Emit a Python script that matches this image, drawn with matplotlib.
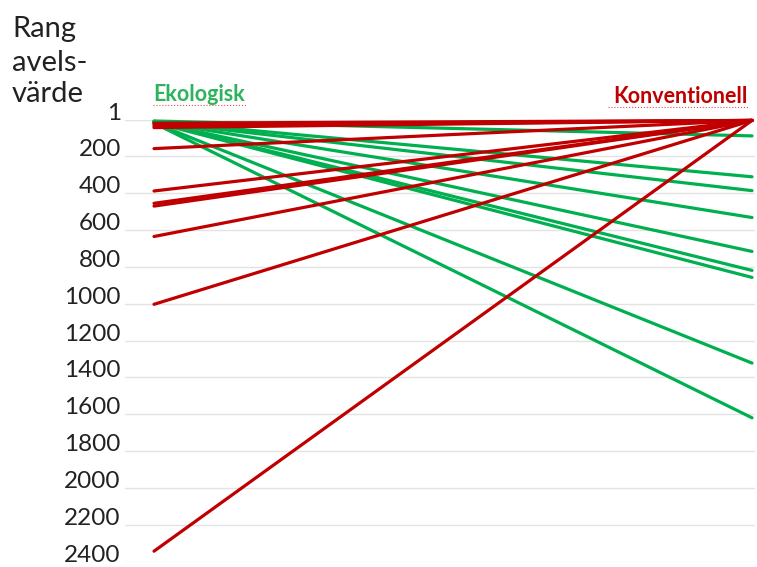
import matplotlib.pyplot as plt

# rank of breeding value: organic (Ekologisk) vs conventional (Konventionell)
green_eko = [8, 10, 12, 12, 14, 15, 16, 18, 20]
green_konv = [89, 311, 386, 532, 716, 819, 857, 1322, 1619]
red_eko = [20, 28, 36, 44, 158, 388, 455, 470, 635, 1003, 2343]
red_konv = [5, 5, 5, 5, 5, 5, 5, 5, 5, 5, 5]
ticks = [1, 200, 400, 600, 800, 1000, 1200, 1400, 1600, 1800, 2000, 2200, 2400]

green = '#00B050'
red = '#C00000'

plt.rcParams['font.family'] = ['Lato', 'DejaVu Sans']

fig = plt.figure(figsize=(7.57, 5.67), dpi=100)
ax = fig.add_axes([125 / 757, 1 - 561.7 / 567, 630 / 757, 442.2 / 567])

for a, b in zip(green_eko, green_konv):
    ax.plot([0, 1], [a, b], color=green, lw=2.3, solid_capstyle='round', clip_on=False)
for a, b in zip(red_eko, red_konv):
    ax.plot([0, 1], [a, b], color=red, lw=2.3, solid_capstyle='round', clip_on=False)

ax.set_xlim(-29 / 598, 1 + 3 / 598)
ax.set_ylim(2400, 0)
ax.set_yticks(ticks)
ax.set_yticklabels([str(t) for t in ticks], fontsize=17.5, color='#222222')
plt.setp(ax.get_yticklabels(), va='baseline')
ax.tick_params(axis='y', length=0, pad=3)
ax.set_xticks([])
ax.grid(axis='y', color='#E3E3E3', lw=1)
ax.set_axisbelow(True)
for s in ax.spines.values():
    s.set_visible(False)

for txt, base in zip(['Rang', 'avels-', 'värde'], [37, 71, 102]):
    fig.text(12 / 757, 1 - base / 567, txt, fontsize=21, color='#222222',
             ha='left', va='baseline')

fig.text(153 / 757, 1 - 101 / 567, 'Ekologisk', color='#2DB35C', fontsize=15.5,
         fontweight='bold', ha='left', va='baseline')
fig.text(748 / 757, 1 - 103 / 567, 'Konventionell', color=red, fontsize=15.5,
         fontweight='bold', ha='right', va='baseline')

# spell-check style underline
fig.add_artist(plt.Line2D([153 / 757, 246 / 757], [1 - 105 / 567] * 2,
                          color='#E05050', lw=0.8, ls=':'))
fig.add_artist(plt.Line2D([608 / 757, 748 / 757], [1 - 107 / 567] * 2,
                          color='#E05050', lw=0.8, ls=':'))

fig.savefig('out.png', dpi=100)
